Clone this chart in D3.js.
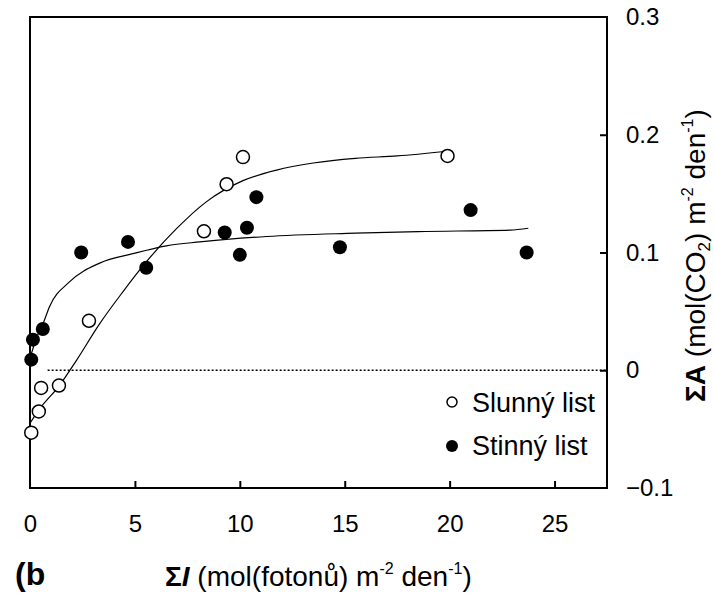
<!DOCTYPE html>
<html lang="cs">
<head>
  <meta charset="UTF-8">
  <title>Slunný a stinný list</title>
  <script src="https://d3js.org/d3.v7.min.js"></script>
  <style>
    body { margin: 0; background: #fff; }
    svg { display: block; font-family: "Liberation Sans", Arial, sans-serif; }
    .frame { fill: none; stroke: #000; stroke-width: 2; }
    .tick-label { font-size: 24px; }
    .fit { fill: none; stroke: #000; stroke-width: 1.2; }
    .zero-line { stroke: #000; stroke-width: 1.5; stroke-dasharray: 2,2; }
  </style>
</head>
<body>
  <script>
    // measured points, slunny list (open circles)
    const sunX = [0.06, 0.42, 0.53, 1.38, 2.81, 8.29, 9.37, 10.15, 19.9];
    const sunY = [-0.053, -0.035, -0.015, -0.013, 0.042, 0.118, 0.158, 0.181, 0.182];
    // measured points, stinny list (filled circles)
    const shadeX = [0.06, 0.14, 0.61, 2.44, 4.67, 5.54, 9.28, 10.0, 10.34, 10.79, 14.77, 21.0, 23.67];
    const shadeY = [0.009, 0.026, 0.035, 0.100, 0.109, 0.087, 0.117, 0.098, 0.121, 0.147, 0.1045, 0.136, 0.100];

    // fitted curves
    const sunFitX = [0, 0.45, 1.4, 2.2, 3.3, 4.4, 5.54, 6.97, 8.4, 10.15, 11.75, 13.5, 15.5, 17.5, 19.9];
    const sunFitY = [-0.045, -0.033, -0.013, 0.008, 0.039, 0.066, 0.092, 0.120, 0.143, 0.161, 0.170, 0.176, 0.180, 0.182, 0.186];
    const shadeFitX = [0, 0.3, 0.61, 0.93, 1.88, 3.32, 4.9, 6.5, 8.09, 11.27, 15.5, 18.5, 22.88, 23.75];
    const shadeFitY = [0.010, 0.027, 0.039, 0.054, 0.075, 0.091, 0.099, 0.1057, 0.109, 0.1136, 0.1164, 0.1178, 0.119, 0.1206];

    const xTicks = [0, 5, 10, 15, 20, 25];
    const yTicks = [-0.1, 0, 0.1, 0.2, 0.3];
    const zeroLine = [0.84, 27.5];

    const width = 714, height = 593;
    const box = { left: 30, right: 607, top: 17, bottom: 488 };

    const svg = d3.select("body").append("svg")
      .attr("width", width)
      .attr("height", height);

    const x = d3.scaleLinear().domain([0, 27.5]).range([box.left, box.right]);
    const y = d3.scaleLinear().domain([-0.1, 0.3]).range([box.bottom, box.top]);

    // frame
    svg.append("rect")
      .attr("class", "frame")
      .attr("x", box.left).attr("y", box.top)
      .attr("width", box.right - box.left)
      .attr("height", box.bottom - box.top);

    // x axis: inward ticks, labels below
    const xAxis = svg.append("g").attr("transform", `translate(0,${box.bottom})`)
      .call(d3.axisBottom(x).tickValues(xTicks).tickSizeInner(-7).tickSizeOuter(0).tickPadding(27)
        .tickFormat(d3.format("d")));
    xAxis.select(".domain").remove();
    xAxis.selectAll(".tick line").attr("stroke-width", 2).filter(d => d === 0).remove();
    xAxis.selectAll(".tick text").attr("class", "tick-label").attr("font-size", null)
      .attr("font-family", null).attr("fill", "#000");

    // y axis on the right
    const yAxis = svg.append("g").attr("transform", `translate(${box.right},0)`)
      .call(d3.axisRight(y).tickValues(yTicks).tickSizeInner(-7).tickSizeOuter(0).tickPadding(19)
        .tickFormat(d => d === 0 ? "0" : d3.format(".1f")(d)));
    yAxis.select(".domain").remove();
    yAxis.selectAll(".tick line").attr("stroke-width", 2)
      .filter(d => d === -0.1 || d === 0.3).remove();
    yAxis.selectAll(".tick text").attr("class", "tick-label").attr("font-size", null)
      .attr("font-family", null).attr("fill", "#000").attr("dy", "0.32em");

    // dotted zero line
    svg.append("line")
      .attr("class", "zero-line")
      .attr("x1", x(zeroLine[0])).attr("x2", x(zeroLine[1]))
      .attr("y1", y(0)).attr("y2", y(0));

    const line = d3.line().x(d => x(d[0])).y(d => y(d[1])).curve(d3.curveMonotoneX);
    svg.append("path").attr("class", "fit").attr("d", line(d3.zip(sunFitX, sunFitY)));
    svg.append("path").attr("class", "fit").attr("d", line(d3.zip(shadeFitX, shadeFitY)));

    svg.selectAll(".sun")
      .data(d3.zip(sunX, sunY))
      .join("circle")
      .attr("class", "sun")
      .attr("cx", d => x(d[0])).attr("cy", d => y(d[1]))
      .attr("r", 6.5)
      .attr("fill", "#fff").attr("stroke", "#000").attr("stroke-width", 1.5);

    svg.selectAll(".shade")
      .data(d3.zip(shadeX, shadeY))
      .join("circle")
      .attr("class", "shade")
      .attr("cx", d => x(d[0])).attr("cy", d => y(d[1]))
      .attr("r", 7)
      .attr("fill", "#000");

    // legend
    const legend = svg.append("g").attr("transform", "translate(452,402)");
    legend.append("circle").attr("r", 5).attr("fill", "#fff").attr("stroke", "#000").attr("stroke-width", 1.5);
    legend.append("text").attr("x", 20).attr("y", 10).attr("font-size", 27).text("Slunný list");
    legend.append("circle").attr("cy", 44).attr("r", 6).attr("fill", "#000");
    legend.append("text").attr("x", 20).attr("y", 53).attr("font-size", 27).text("Stinný list");

    // x axis title
    const xt = svg.append("text").attr("x", 165).attr("y", 586).attr("font-size", 28);
    xt.append("tspan").attr("font-weight", "bold").text("Σ");
    xt.append("tspan").attr("font-weight", "bold").attr("font-style", "italic").text("I");
    xt.append("tspan").text(" (mol(fotonů) m");
    xt.append("tspan").attr("font-size", 16).attr("dy", -12).text("-2");
    xt.append("tspan").attr("dy", 12).text(" den");
    xt.append("tspan").attr("font-size", 16).attr("dy", -12).text("-1");
    xt.append("tspan").attr("dy", 12).text(")");

    svg.append("text").attr("x", 15).attr("y", 585)
      .attr("font-size", 32).attr("font-weight", "bold").text("(b");

    // y axis title, rotated
    const yt = svg.append("text")
      .attr("transform", "translate(705,402) rotate(-90)")
      .attr("font-size", 28);
    yt.append("tspan").attr("font-weight", "bold").text("ΣA");
    yt.append("tspan").text("  (mol(CO");
    yt.append("tspan").attr("font-size", 17).attr("dy", 5).text("2");
    yt.append("tspan").attr("dy", -5).text(") m");
    yt.append("tspan").attr("font-size", 16).attr("dy", -12).text("-2");
    yt.append("tspan").attr("dy", 12).text(" den");
    yt.append("tspan").attr("font-size", 16).attr("dy", -12).text("-1");
    yt.append("tspan").attr("dy", 12).text(")");
  </script>
</body>
</html>
